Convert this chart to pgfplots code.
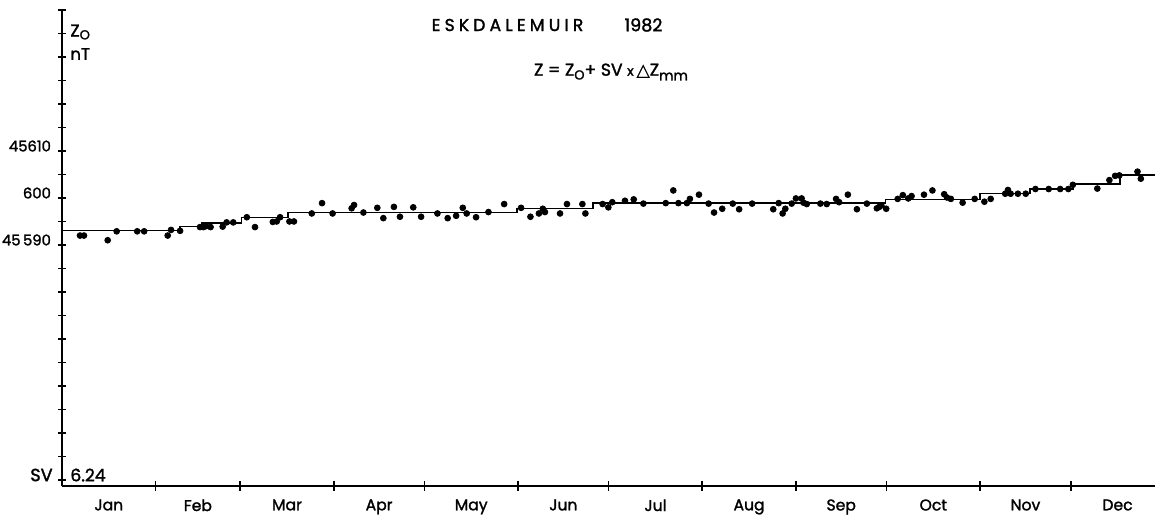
\documentclass[border=0pt]{standalone}
\usepackage{fontspec}
\setmainfont{Poppins}[FakeBold=1.6]
\newfontfamily\dejavu{DejaVu Sans}[FakeBold=1.2]
\usepackage{pgfplots}
\pgfplotsset{compat=1.18}
\begin{document}
\begin{tikzpicture}
\useasboundingbox (-31pt,-14.5pt) rectangle (546.5pt,243pt);
\begin{axis}[
  at={(0pt,0pt)}, anchor=south west,
  scale only axis, width=546.5pt, height=238pt,
  xmin=0, xmax=361.9, ymin=45538.7, ymax=45640,
  clip=false,
  axis lines*=left,
  axis line style={line width=1pt},
  tick align=center,
  major tick length=4pt, minor tick length=5pt,
  xtick={15.5,45,74.5,105,135.5,166,196.5,227.5,258,288.5,319,349.5},
  xticklabels={Jan,Feb,Mar,Apr,May,Jun,Jul,Aug,Sep,Oct,Nov,Dec},
  minor xtick={31,59,90,120,151,181,212,243,273,304,334},
  major x tick style={draw=none},
  minor x tick style={line width=0.8pt, black},
  ytick={45540,45545,...,45640},
  yticklabels={,,,,,,,,,,45\,590,,600,,45610,,,,,,},
  major y tick style={line width=0.8pt, black},
  xticklabel style={font=\fontsize{7.8}{8}\selectfont, yshift=-1.2pt},
  yticklabel style={font=\fontsize{7.4}{8}\selectfont, anchor=east, yshift=2.5pt, xshift=0pt},
]
\addplot[const plot, line width=0.7pt, black] coordinates {
(0,45593.1) (39.1,45593.9) (46.3,45594.7) (59.5,45595.9) (74.8,45596.9)
(150.6,45597.8) (175.8,45598.9) (272.7,45599.7) (304,45601.0) (320.5,45601.9)
(334.9,45603.0) (350.3,45604.9) (361.9,45604.9)
};
\addplot[only marks, mark=*, mark size=1.45pt, black] coordinates {
(5.96,45592.0) (7.28,45592.0) (15.13,45591.0) (18.1,45592.9) (24.9,45592.9)
(27.2,45592.9) (35.0,45592.0) (36.1,45593.2) (39.1,45593.0) (45.7,45593.8)
(46.8,45593.8) (47.7,45594.0) (49.2,45593.8) (53.2,45593.9) (54.5,45594.8)
(56.7,45594.8) (61.2,45595.9) (63.9,45593.8) (69.8,45594.9) (71.1,45595.0)
(72.2,45595.9) (75.3,45595.0) (76.8,45595.0) (82.7,45596.7) (86.1,45598.9)
(89.6,45596.7) (95.9,45597.8) (96.7,45598.5) (99.8,45596.9) (104.4,45597.9)
(106.4,45595.7) (109.9,45598.1) (111.9,45596.0) (116.3,45598.0) (118.9,45596.0)
(124.3,45596.7) (127.7,45595.7) (130.5,45596.2) (132.7,45597.9) (134.0,45596.7)
(137.1,45595.9) (141.2,45597.0) (146.4,45598.7) (152.0,45597.9) (155.1,45596.0)
(157.9,45596.7) (159.2,45597.7) (159.9,45597.0) (164.9,45596.7) (167.2,45598.7)
(172.3,45598.7) (173.3,45596.7) (179.0,45598.7) (180.9,45598.0) (182.2,45599.1)
(186.4,45599.4) (189.3,45599.7) (192.5,45598.8) (199.9,45598.9) (202.4,45601.6)
(204.1,45598.9) (206.9,45598.9) (207.9,45599.8) (210.9,45600.7) (214.1,45598.8)
(215.9,45596.9) (218.6,45597.7) (222.1,45598.8) (224.2,45597.6) (228.5,45598.8)
(235.5,45597.6) (237.3,45598.9) (238.6,45596.7) (239.5,45597.7) (241.6,45598.8)
(243.0,45599.9) (244.9,45599.9) (245.5,45599.0) (246.6,45598.7) (251.1,45598.8)
(253.2,45598.7) (256.3,45599.8) (257.3,45599.1) (260.2,45600.7) (263.2,45597.6)
(266.5,45598.8) (269.8,45597.8) (270.6,45598.1) (271.3,45598.4) (272.9,45597.7)
(276.7,45599.8) (278.4,45600.6) (280.2,45599.9) (281.3,45600.4) (285.4,45600.7)
(288.2,45601.6) (292.1,45600.8) (293.0,45600.1) (294.3,45599.8) (298.2,45599.0)
(302.2,45599.8) (305.4,45599.2) (307.5,45599.8) (312.3,45600.9) (313.2,45601.7)
(314.1,45600.9) (316.5,45600.9) (319.1,45600.9) (322.3,45601.9) (326.7,45601.9)
(330.5,45601.9) (333.2,45601.9) (334.7,45602.8) (342.8,45602.0) (346.8,45603.8)
(348.7,45604.7) (350.1,45604.8) (356.1,45605.6) (357.2,45604.1)
};
\end{axis}
\begin{scope}[every node/.style={inner sep=0pt}]
\node[anchor=west, font=\fontsize{8.6}{9}\selectfont] at (4pt,227pt) {Z\raisebox{-0.3ex}{\fontsize{6.5}{7}\selectfont O}};
\node[anchor=west, font=\fontsize{8.3}{9}\selectfont] at (4pt,216pt) {nT};
\node[font=\fontsize{8.6}{9}\selectfont\addfontfeature{LetterSpace=24}] at (222.75pt,230.5pt) {ESKDALEMUIR};
\node[font=\fontsize{8.8}{9}\selectfont] at (290.75pt,230.5pt) {1982};
\node[font=\fontsize{8.6}{9}\selectfont] at (274.5pt,207pt) {Z = Z\raisebox{-0.4ex}{\fontsize{6.5}{7}\selectfont O}+ SV {\fontsize{6.8}{7}\selectfont x}\,{\dejavu △}Z\raisebox{-0.5ex}{\fontsize{7}{7}\selectfont mm}};
\node[anchor=east, font=\fontsize{8.8}{9}\selectfont] at (-4.5pt,5.5pt) {SV};
\node[anchor=west, font=\fontsize{8.6}{9}\selectfont] at (4pt,5.5pt) {6.24};
\end{scope}
\end{tikzpicture}
\end{document}
